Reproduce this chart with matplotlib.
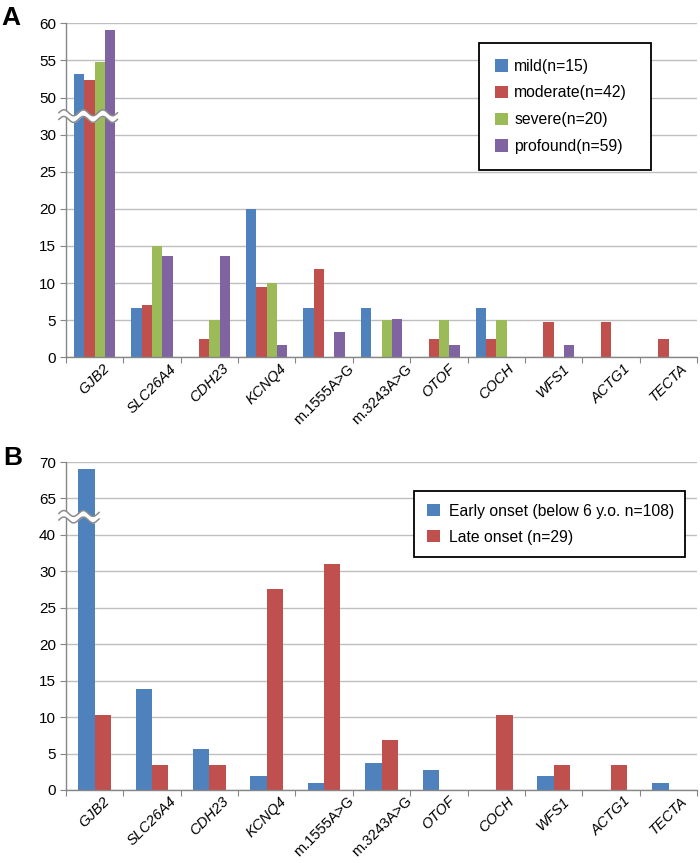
import numpy as np
import matplotlib
matplotlib.use("Agg")
import matplotlib.pyplot as plt

plt.rcParams['font.family'] = ['Liberation Sans', 'DejaVu Sans']

# -------------------------------------------------
# DATA (percent of patients per gene)
# -------------------------------------------------
genes = ["GJB2", "SLC26A4", "CDH23", "KCNQ4", "m.1555A>G", "m.3243A>G",
         "OTOF", "COCH", "WFS1", "ACTG1", "TECTA"]
italic_gene = [True, True, True, True, False, False, True, True, True, True, True]

# panel A: severity
mild = [53.2, 6.7, 0, 20.0, 6.7, 6.7, 0, 6.7, 0, 0, 0]
moderate = [52.3, 7.1, 2.4, 9.5, 11.9, 0, 2.4, 2.4, 4.8, 4.8, 2.4]
severe = [54.8, 15.0, 5.0, 10.0, 0, 5.0, 5.0, 5.0, 0, 0, 0]
profound = [59.1, 13.6, 13.6, 1.7, 3.4, 5.1, 1.7, 0, 1.7, 0, 0]
labels_a = ["mild(n=15)", "moderate(n=42)", "severe(n=20)", "profound(n=59)"]

# panel B: onset
early = [69.0, 13.9, 5.6, 1.9, 0.9, 3.7, 2.8, 0, 1.9, 0, 0.9]
late = [10.3, 3.4, 3.4, 27.6, 32.0, 6.9, 0, 10.3, 3.4, 3.4, 0]
labels_b = ["Early onset (below 6 y.o. n=108)", "Late onset (n=29)"]

# broken y axis: tick values (placed at equal spacing)
yticks_a = [0, 5, 10, 15, 20, 25, 30, 50, 55, 60]
yticks_b = [0, 5, 10, 15, 20, 25, 30, 40, 65, 70]

COLORS = ["#4F81BD", "#C0504D", "#9BBB59", "#8064A2"]
GRID = "#BFBFBF"
AXIS = "#868686"
W, H = 700, 863


def broken_scale(ax, ticks):
    vals = np.array(ticks, dtype=float)
    pos = np.arange(len(ticks), dtype=float)

    def fwd(y):
        return np.interp(y, vals, pos)

    def inv(p):
        return np.interp(p, pos, vals)

    ax.set_yscale("function", functions=(fwd, inv))
    ax.set_ylim(vals[0], vals[-1])
    ax.set_yticks(ticks)
    ax.set_yticklabels([str(t) for t in ticks])
    return fwd, inv


def style_axes(ax):
    ax.set_xlim(-0.5, len(genes) - 0.5)
    ax.set_xticks(np.arange(-0.5, len(genes)))
    ax.set_xticklabels([])
    ax.set_xticks(np.arange(len(genes)), minor=True)
    ax.set_xticklabels(genes, minor=True, rotation=45, ha="center", va="top",
                       fontsize=10.5)
    for lab, it in zip(ax.get_xticklabels(minor=True), italic_gene):
        lab.set_fontstyle("italic" if it else "normal")
    ax.tick_params(axis="x", which="major", length=4, color=AXIS, direction="out")
    ax.tick_params(axis="x", which="minor", length=0, pad=3)
    ax.tick_params(axis="y", length=4, color=AXIS, labelsize=11, pad=3)
    ax.yaxis.grid(True, color=GRID, linewidth=1.0)
    ax.set_axisbelow(True)
    for s in ["top", "right"]:
        ax.spines[s].set_visible(False)
    for s in ["left", "bottom"]:
        ax.spines[s].set_color(AXIS)
        ax.spines[s].set_linewidth(1.0)


def draw_break(ax, inv, p_center, x0, x1, half=0.09):
    # white wavy band with grey edges across the axis break
    xs = np.linspace(x0, x1, 120)
    wave = 0.08 * np.sin((xs - x0) / 0.17 * np.pi)
    lo = inv(p_center - half + wave)
    hi = inv(p_center + half + wave)
    ax.fill_between(xs, lo, hi, color="white", zorder=5, clip_on=False, lw=0)
    ax.plot(xs, lo, color="#8C8C8C", lw=1.1, zorder=6, clip_on=False)
    ax.plot(xs, hi, color="#8C8C8C", lw=1.1, zorder=6, clip_on=False)


def box_legend(ax, box_px, labelspacing, borderpad, handletextpad):
    x0, y0, x1, y1 = box_px
    leg = ax.legend(loc="upper left",
                    bbox_to_anchor=(x0 / W, 1 - y1 / H, (x1 - x0) / W, (y1 - y0) / H),
                    bbox_transform=ax.figure.transFigure, mode="expand",
                    borderaxespad=0, fontsize=11.3, frameon=True, fancybox=False,
                    edgecolor="black", framealpha=1, handlelength=0.85,
                    handleheight=0.85, labelspacing=labelspacing,
                    borderpad=borderpad, handletextpad=handletextpad)
    leg.get_frame().set_linewidth(1.3)
    return leg


fig = plt.figure(figsize=(W / 100, H / 100), dpi=100)
x = np.arange(len(genes))

# ---------------- panel A ----------------
axA = fig.add_axes([0.094, 0.586, 0.902, 0.387])
fwdA, invA = broken_scale(axA, yticks_a)
w = 0.18
series_a = [mild, moderate, severe, profound]
for i, (vals, lab) in enumerate(zip(series_a, labels_a)):
    axA.bar(x + (i - 1.5) * w, vals, width=w, color=COLORS[i], label=lab,
            linewidth=0, zorder=2)
style_axes(axA)
draw_break(axA, invA, 6.5, -0.62, 0.40)
box_legend(axA, (479, 43, 651, 167), 0.75, 1.0, 0.4)
fig.text(0.002, 0.993, "A", fontsize=19, fontweight="bold", va="top", ha="left")

# ---------------- panel B ----------------
axB = fig.add_axes([0.094, 0.0846, 0.902, 0.380])
fwdB, invB = broken_scale(axB, yticks_b)
w = 0.285
series_b = [early, late]
for i, (vals, lab) in enumerate(zip(series_b, labels_b)):
    axB.bar(x + (i - 0.5) * w, vals, width=w, color=COLORS[i], label=lab,
            linewidth=0, zorder=2)
style_axes(axB)
draw_break(axB, invB, 7.5, -0.62, 0.08)
box_legend(axB, (414, 491, 685, 559), 0.7, 0.8, 0.6)
fig.text(0.004, 0.483, "B", fontsize=19, fontweight="bold", va="top", ha="left")

fig.savefig("out.png", dpi=100)
